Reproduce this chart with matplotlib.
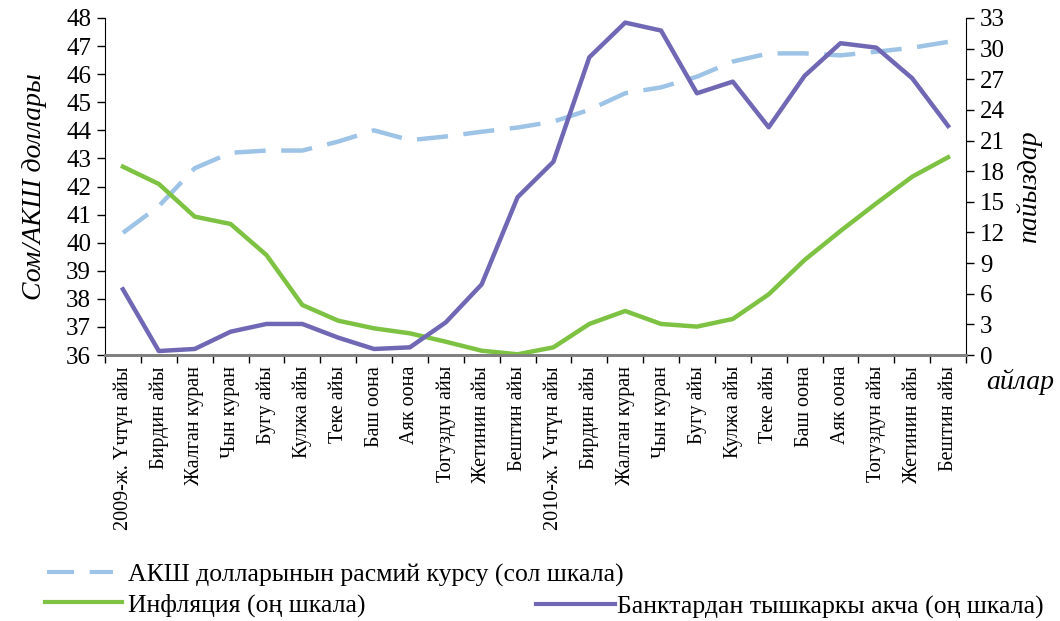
import matplotlib.pyplot as plt
from matplotlib.lines import Line2D

plt.rcParams['font.family'] = ['Liberation Serif', 'DejaVu Serif']

# Категориялар (айлар)
months = ["2009-ж. Үчтүн айы", "Бирдин айы", "Жалган куран", "Чын куран", "Бугу айы",
          "Кулжа айы", "Теке айы", "Баш оона", "Аяк оона", "Тогуздун айы",
          "Жетинин айы", "Бештин айы", "2010-ж. Үчтүн айы", "Бирдин айы",
          "Жалган куран", "Чын куран", "Бугу айы", "Кулжа айы", "Теке айы",
          "Баш оона", "Аяк оона", "Тогуздун айы", "Жетинин айы", "Бештин айы"]

# АКШ долларынын расмий курсу (сол шкала)
usd_rate = [40.35, 41.3, 42.65, 43.2, 43.28, 43.28, 43.6, 44.0, 43.65, 43.78, 43.95, 44.1,
            44.31, 44.73, 45.32, 45.53, 45.91, 46.45, 46.74, 46.74, 46.67, 46.8, 46.94, 47.15]
# Инфляция (оң шкала)
inflation = [18.44, 16.75, 13.55, 12.83, 9.79, 4.9, 3.36, 2.61, 2.12, 1.3, 0.42, 0.07,
             0.75, 3.04, 4.31, 3.04, 2.78, 3.53, 5.94, 9.3, 12.14, 14.85, 17.46, 19.36]
# Банктардан тышкаркы акча (оң шкала)
cash = [6.43, 0.39, 0.59, 2.28, 3.04, 3.04, 1.7, 0.59, 0.75, 3.2, 6.92, 15.45,
        18.93, 29.15, 32.55, 31.77, 25.63, 26.77, 22.3, 27.33, 30.53, 30.1, 27.1, 22.43]

c_usd = '#9dc3e6'
c_inf = '#7dc242'
c_cash = '#7068b5'

fig = plt.figure(figsize=(10.6, 6.21), dpi=100)
ax = fig.add_axes([105 / 1060, 1 - 355 / 621, (966 - 105) / 1060, (355 - 18) / 621])
ax2 = ax.twinx()

x = list(range(len(months)))
ax.plot(x, usd_rate, color=c_usd, lw=3.2, dashes=(7, 3.5))
ax2.plot(x, inflation, color=c_inf, lw=3.2)
ax2.plot(x, cash, color=c_cash, lw=3.2)

ax.set_xlim(-0.5, len(months) - 0.5)
ax.set_ylim(36, 48)
ax.set_yticks(range(36, 49))
ax2.set_ylim(0, 33)
ax2.set_yticks(range(0, 34, 3))

ax.set_xticks(x)
ax.set_xticklabels(months, rotation=90, fontsize=14.5)
ax.set_xticks([i - 0.5 for i in range(len(months) + 1)], minor=True)
ax.tick_params(axis='x', which='major', length=0, pad=8)
ax.tick_params(axis='x', which='minor', length=6, width=1, color='black', direction='out')
ax.tick_params(axis='y', labelsize=18, length=6, width=1, direction='out', pad=4)
ax2.tick_params(axis='y', labelsize=18, length=6, width=1, direction='out', pad=4)

for a in (ax, ax2):
    a.spines['top'].set_visible(False)
    a.spines['bottom'].set_color('#808080')
    a.spines['bottom'].set_linewidth(2)
ax2.spines['left'].set_visible(False)
ax.spines['right'].set_visible(False)

ax.set_ylabel("Сом/АКШ доллары", fontsize=20, style='italic', labelpad=14)
ax2.set_ylabel("пайыздар", fontsize=20, style='italic', labelpad=8)
fig.text(1020 / 1060, 1 - 382 / 621, "айлар", fontsize=20, style='italic',
         ha='center', va='center')

# Легенда
h_usd = Line2D([], [], color=c_usd, lw=3, dashes=(6.5, 3.75))
h_inf = Line2D([], [], color=c_inf, lw=3)
h_cash = Line2D([], [], color=c_cash, lw=3)
leg_kw = dict(frameon=False, fontsize=18.5, borderpad=0, borderaxespad=0, loc='center left')
fig.legend([h_usd], ["АКШ долларынын расмий курсу (сол шкала)"],
           bbox_to_anchor=(47 / 1060, 1 - 575 / 621),
           handlelength=2.57, handletextpad=0.58, **leg_kw)
fig.legend([h_inf], ["Инфляция (оң шкала)"],
           bbox_to_anchor=(45 / 1060, 1 - 605 / 621),
           handlelength=3.0, handletextpad=0.23, **leg_kw)
fig.legend([h_cash], ["Банктардан тышкаркы акча (оң шкала)"],
           bbox_to_anchor=(536 / 1060, 1 - 607 / 621),
           handlelength=3.07, handletextpad=0.08, **leg_kw)

plt.savefig("out.png", dpi=100)
